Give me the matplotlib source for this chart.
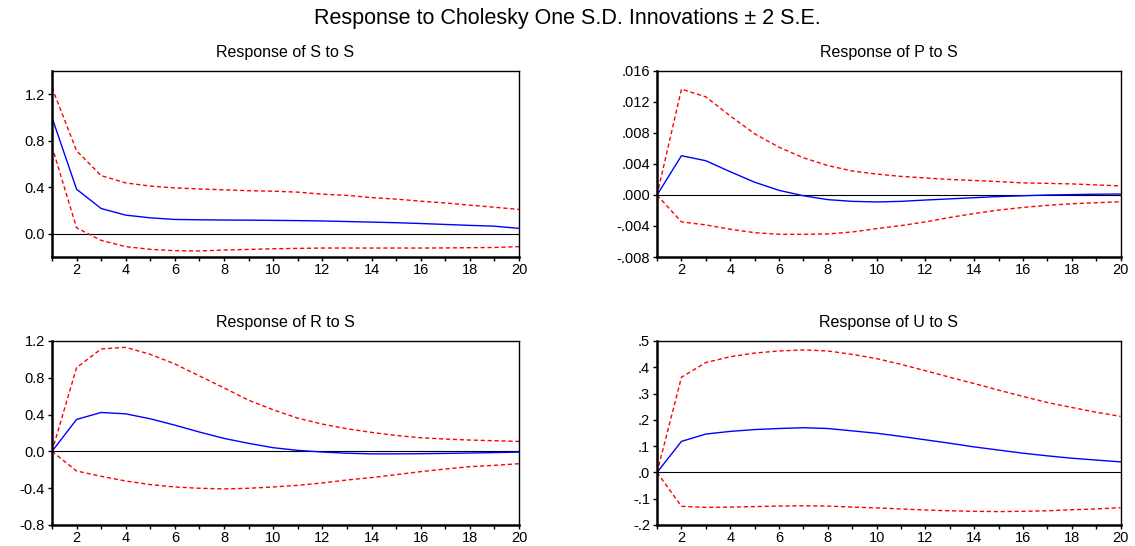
import matplotlib
matplotlib.use('Agg')
import matplotlib.pyplot as plt
from matplotlib.ticker import FuncFormatter

plt.rcParams['font.family'] = ['Liberation Sans', 'DejaVu Sans']

periods = list(range(1, 21))

# Response of S to S
s_resp = [1.0, 0.383, 0.217, 0.16, 0.137, 0.123, 0.12, 0.118, 0.117, 0.115,
          0.113, 0.11, 0.105, 0.1, 0.095, 0.088, 0.08, 0.072, 0.065, 0.046]
s_up = [1.257, 0.714, 0.5, 0.437, 0.41, 0.394, 0.385, 0.378, 0.37, 0.366,
        0.358, 0.34, 0.33, 0.311, 0.298, 0.28, 0.265, 0.246, 0.228, 0.209]
s_lo = [0.751, 0.051, -0.057, -0.111, -0.134, -0.146, -0.148, -0.14, -0.135, -0.129,
        -0.126, -0.123, -0.123, -0.123, -0.123, -0.123, -0.122, -0.12, -0.118, -0.111]

# Response of P to S
p_resp = [0.0, 0.00507, 0.00442, 0.003, 0.00165, 0.0006, -0.0001, -0.0006, -0.00082, -0.0009,
          -0.00082, -0.00065, -0.0005, -0.00035, -0.0002, -0.0001, 0.0, 0.00005, 0.0001, 0.00013]
p_up = [0.0, 0.01366, 0.01266, 0.0102, 0.0079, 0.00616, 0.0048, 0.0038, 0.0031, 0.0027,
        0.0024, 0.0022, 0.002, 0.00187, 0.00173, 0.00156, 0.0015, 0.00143, 0.0013, 0.00117]
p_lo = [0.0, -0.00347, -0.00386, -0.00442, -0.00486, -0.00507, -0.00507, -0.00503, -0.00477, -0.00434,
        -0.00395, -0.00347, -0.0029, -0.00239, -0.00195, -0.0016, -0.00134, -0.00113, -0.001, -0.00087]

# Response of R to S
r_resp = [0.0, 0.347, 0.423, 0.408, 0.354, 0.285, 0.21, 0.141, 0.087, 0.04,
          0.011, -0.007, -0.02, -0.027, -0.027, -0.025, -0.022, -0.018, -0.013, -0.008]
r_up = [0.0, 0.91, 1.113, 1.131, 1.055, 0.95, 0.82, 0.69, 0.556, 0.452,
        0.361, 0.296, 0.246, 0.206, 0.173, 0.148, 0.134, 0.123, 0.116, 0.108]
r_lo = [0.0, -0.213, -0.271, -0.322, -0.361, -0.387, -0.401, -0.408, -0.401, -0.387,
        -0.369, -0.343, -0.311, -0.285, -0.253, -0.22, -0.192, -0.166, -0.152, -0.134]

# Response of U to S
u_resp = [0.0, 0.118, 0.146, 0.156, 0.163, 0.167, 0.17, 0.167, 0.158, 0.149,
          0.137, 0.124, 0.111, 0.097, 0.085, 0.073, 0.063, 0.054, 0.047, 0.04]
u_up = [0.0, 0.362, 0.418, 0.44, 0.454, 0.462, 0.466, 0.462, 0.449, 0.433,
        0.411, 0.387, 0.362, 0.338, 0.313, 0.289, 0.266, 0.247, 0.229, 0.213]
u_lo = [0.0, -0.129, -0.133, -0.132, -0.13, -0.128, -0.127, -0.128, -0.132, -0.135,
        -0.139, -0.143, -0.146, -0.148, -0.149, -0.148, -0.146, -0.142, -0.139, -0.134]


def lead_fmt(decimals):
    def f(v, pos):
        s = f'{v:.{decimals}f}'
        if s.startswith('-0.'):
            s = '-' + s[2:]
        elif s.startswith('0.'):
            s = s[1:]
        return s
    return FuncFormatter(f)


def draw_panel(ax, title, resp, up, lo, ylim, yticks, fmt):
    ax.plot(periods, up, color='#ff0000', lw=1.0, ls=(0, (3, 2)))
    ax.plot(periods, lo, color='#ff0000', lw=1.0, ls=(0, (3, 2)))
    ax.plot(periods, resp, color='#0000ff', lw=1.0)
    ax.axhline(0, color='black', lw=0.8, zorder=1)
    ax.set_xlim(1, 20)
    ax.set_ylim(*ylim)
    ax.set_yticks(yticks)
    ax.yaxis.set_major_formatter(fmt)
    ax.set_xticks(periods)
    ax.set_xticklabels([str(p) if p % 2 == 0 else '' for p in periods])
    ax.tick_params(direction='out', length=3, width=1, labelsize=10.5)
    ax.tick_params(axis='x', pad=1)
    ax.tick_params(axis='y', pad=2)
    for side in ['top', 'right']:
        ax.spines[side].set_linewidth(1.0)
    for side in ['left', 'bottom']:
        ax.spines[side].set_linewidth(1.8)
    ax.set_title(title, fontsize=11.5, pad=10)


fig = plt.figure(figsize=(11.35, 5.46), dpi=100)
fig.suptitle('Response to Cholesky One S.D. Innovations \u00b1 2 S.E.', fontsize=15.5, y=0.985)

ax1 = fig.add_axes([0.0458, 0.5293, 0.4115, 0.3407])
ax2 = fig.add_axes([0.5789, 0.5293, 0.4084, 0.3407])
ax3 = fig.add_axes([0.0458, 0.0385, 0.4115, 0.3370])
ax4 = fig.add_axes([0.5789, 0.0385, 0.4084, 0.3370])

draw_panel(ax1, 'Response of S to S', s_resp, s_up, s_lo, (-0.2, 1.4),
           [0.0, 0.4, 0.8, 1.2], FuncFormatter(lambda v, p: f'{v:.1f}'))
draw_panel(ax2, 'Response of P to S', p_resp, p_up, p_lo, (-0.008, 0.016),
           [-0.008, -0.004, 0.0, 0.004, 0.008, 0.012, 0.016], lead_fmt(3))
draw_panel(ax3, 'Response of R to S', r_resp, r_up, r_lo, (-0.8, 1.2),
           [-0.8, -0.4, 0.0, 0.4, 0.8, 1.2], FuncFormatter(lambda v, p: f'{v:.1f}'))
draw_panel(ax4, 'Response of U to S', u_resp, u_up, u_lo, (-0.2, 0.5),
           [-0.2, -0.1, 0.0, 0.1, 0.2, 0.3, 0.4, 0.5], lead_fmt(1))

fig.savefig('out.png', dpi=100)
